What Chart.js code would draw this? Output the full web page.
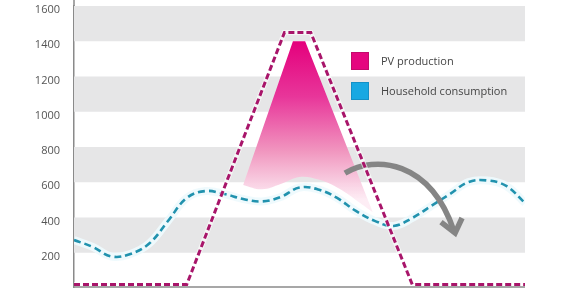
<!DOCTYPE html>
<html>
<head>
<meta charset="utf-8">
<script src="https://cdn.jsdelivr.net/npm/chart.js@4/dist/chart.umd.min.js"></script>
<style>
html,body{margin:0;padding:0;background:#fff;}
#wrap{width:564px;height:288px;position:relative;}
</style>
</head>
<body>
<div id="wrap"><canvas id="c" width="564" height="288"></canvas></div>
<script>
// ---- data (hours of day / watts) ----
const hours = [0,1,2,3,4,5,6,7,8,9,10,11,12,13,14,15,16,17,18,19,20,21,22,23,24];
const consumption = [272,233,179,193,252,380,511,550,533,505,491,516,570,559,511,437,381,352,397,465,533,601,610,579,482];

const pvHours = [0,6,11.2,12.6,18,24];
const pvProduction = [20,20,1450,1450,20,20];

// shaded surplus area (top outline and lower edge)
const surplusTopHours = [9,11.65,12.3,15.9];
const surplusTopValues = [585,1400,1400,430];
const surplusBottomHours = [9,10,11,12,13,14,15,15.9];
const surplusBottomValues = [585,560,590,630,615,570,500,430];

// arrow (bezier in data coords) and head
const arrowCurve = [[14.42,652],[16.02,755],[18.95,726],[20.22,323]];
const arrowHead = [[19.53,374],[20.28,312],[20.65,397]];

const yTicks = [200,400,600,800,1000,1200,1400,1600];
const bands = [[1400,1600],[1000,1200],[600,800],[200,400]];

const legendItems = ['PV production','Household consumption'];
const legendColors = ['#e5067f','#17a8e2'];
const legendBorders = ['#c30b6c','#1490c6'];

const pts = (xs, ys) => xs.map((x,i)=>({x:x,y:ys[i]}));

const bgPlugin = {
  id:'bg',
  beforeDatasetsDraw(chart){
    const {ctx, chartArea:a, scales:{y}} = chart;
    ctx.save();
    ctx.fillStyle = '#e6e6e7';
    bands.forEach(([lo,hi])=>{
      const t = y.getPixelForValue(hi), b = y.getPixelForValue(lo);
      ctx.fillRect(a.left, t, a.right-a.left, b-t);
    });
    ctx.restore();
  },
  afterDatasetDraw(chart, args){
    if (args.index !== 3) return;
    const {ctx, scales:{x,y}} = chart;
    const P = p => [x.getPixelForValue(p[0]), y.getPixelForValue(p[1])];
    const c = arrowCurve.map(P);
    ctx.save();
    ctx.strokeStyle = '#858585';
    ctx.lineWidth = 5.5;
    ctx.lineCap = 'butt';
    ctx.beginPath();
    ctx.moveTo(c[0][0],c[0][1]);
    ctx.bezierCurveTo(c[1][0],c[1][1],c[2][0],c[2][1],c[3][0],c[3][1]);
    ctx.stroke();
    const h = arrowHead.map(P);
    ctx.lineJoin = 'miter';
    ctx.beginPath();
    ctx.moveTo(h[0][0],h[0][1]);
    ctx.lineTo(h[1][0],h[1][1]);
    ctx.lineTo(h[2][0],h[2][1]);
    ctx.stroke();
    ctx.restore();
  },
  afterDraw(chart){
    const {ctx, chartArea:a} = chart;
    ctx.save();
    // axis lines
    ctx.strokeStyle = '#8a8a8a';
    ctx.lineWidth = 1.5;
    ctx.beginPath();
    ctx.moveTo(a.left, a.bottom-1);
    ctx.lineTo(a.right, a.bottom-1);
    ctx.moveTo(a.left, 0);
    ctx.lineTo(a.left, a.top);
    ctx.stroke();
    // legend
    ctx.font = '11px "Open Sans"';
    ctx.textBaseline = 'middle';
    legendItems.forEach((t,i)=>{
      const sx = 351, sy = 52 + i*30;
      ctx.fillStyle = legendColors[i];
      ctx.fillRect(sx, sy, 18, 18);
      ctx.strokeStyle = legendBorders[i];
      ctx.lineWidth = 1;
      ctx.strokeRect(sx+0.5, sy+0.5, 17, 17);
      ctx.fillStyle = '#454545';
      ctx.fillText(t, 381, sy + 9.5);
    });
    ctx.restore();
  }
};

const ctx = document.getElementById('c').getContext('2d');
new Chart(ctx, {
  type:'line',
  data:{
    datasets:[
      { // 0 surplus top
        data: pts(surplusTopHours, surplusTopValues),
        borderWidth:0, pointRadius:0, tension:0, order:6,
        fill: 1,
        backgroundColor(context){
          const ch = context.chart;
          if (!ch.chartArea) return 'rgba(230,0,126,0.6)';
          const y = ch.scales.y;
          const g = ch.ctx.createLinearGradient(0, y.getPixelForValue(1400), 0, y.getPixelForValue(500));
          g.addColorStop(0, '#e4007c');
          g.addColorStop(0.35, '#e8369a');
          g.addColorStop(0.7, '#f198c0');
          g.addColorStop(1, 'rgba(253,236,244,0.95)');
          return g;
        }
      },
      { // 1 surplus bottom
        data: pts(surplusBottomHours, surplusBottomValues),
        borderWidth:0, pointRadius:0, tension:0.4, order:5, fill:false
      },
      { // 2 consumption halo
        data: pts(hours, consumption),
        borderColor:'rgba(238,250,253,0.95)', borderWidth:8,
        pointRadius:0, tension:0.4, order:4, fill:false
      },
      { // 3 consumption
        label:'Household consumption',
        data: pts(hours, consumption),
        borderColor:'#2192ae', borderWidth:2.6, borderDash:[7,4],
        pointRadius:0, tension:0.4, order:3, fill:false
      },
      { // 4 pv halo
        data: pts(pvHours, pvProduction),
        borderColor:'rgba(255,255,255,0.6)', borderWidth:5,
        pointRadius:0, tension:0, order:2, fill:false
      },
      { // 5 pv
        label:'PV production',
        data: pts(pvHours, pvProduction),
        borderColor:'#a8156a', borderWidth:3, borderDash:[6,3],
        pointRadius:0, tension:0, order:1, fill:false
      }
    ]
  },
  options:{
    responsive:false,
    animation:false,
    devicePixelRatio:1,
    layout:{padding:{top:6,right:39,bottom:0,left:0}},
    plugins:{legend:{display:false},tooltip:{enabled:false}},
    scales:{
      x:{type:'linear', min:0, max:24, display:false},
      y:{
        min:0, max:1600,
        afterBuildTicks(s){ s.ticks = yTicks.map(v=>({value:v})); },
        afterFit(s){ s.width = 74; s.paddingTop = 0; s.paddingBottom = 0; },
        grid:{display:false},
        border:{display:true, color:'#8a8a8a', width:1.5},
        ticks:{
          padding:6, labelOffset:4,
          color:'#555',
          font:{family:'"Open Sans"', size:11},
          callback:(v)=>String(v)
        }
      }
    }
  },
  plugins:[bgPlugin]
});
</script>
</body>
</html>
